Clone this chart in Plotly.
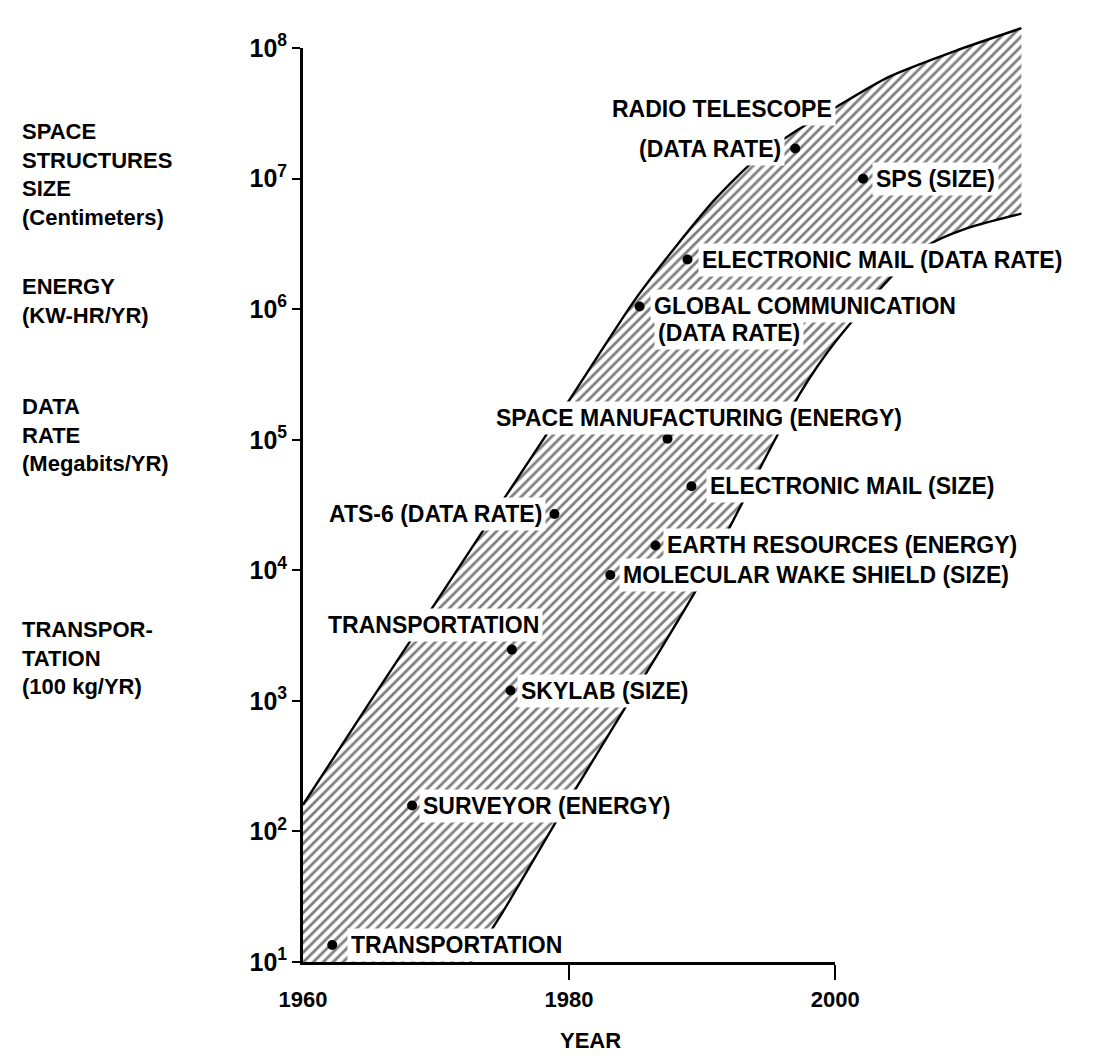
import math
import plotly.graph_objects as go

# ---- data -------------------------------------------------------------
# envelope of projected growth (year, value on the log scale)
upper_years = [1960, 1965, 1970, 1975, 1980, 1985, 1988, 1991, 1994, 1997, 2000, 2004, 2009, 2014]
upper_values = [160, 970, 5.7e3, 3.4e4, 2.0e5, 1.2e6, 3.0e6, 7.0e6, 1.4e7, 2.3e7, 3.5e7, 6.0e7, 9.5e7, 1.42e8]

lower_years = [1972.6, 1975, 1980, 1985, 1990, 1995, 1997.4, 2000, 2004.4, 2007, 2010, 2014]
lower_values = [10, 24, 175, 1200, 8500, 8.1e4, 2.3e5, 5.6e5, 1.85e6, 3.1e6, 4.2e6, 5.4e6]

# milestones
point_labels = [
    "TRANSPORTATION",
    "SURVEYOR (ENERGY)",
    "SKYLAB (SIZE)",
    "TRANSPORTATION",
    "ATS-6 (DATA RATE)",
    "MOLECULAR WAKE SHIELD (SIZE)",
    "EARTH RESOURCES (ENERGY)",
    "ELECTRONIC MAIL (SIZE)",
    "SPACE MANUFACTURING (ENERGY)",
    "GLOBAL COMMUNICATION<br>(DATA RATE)",
    "ELECTRONIC MAIL (DATA RATE)",
    "SPS (SIZE)",
    "RADIO TELESCOPE<br>(DATA RATE)",
]
point_years = [1962.2, 1968.2, 1975.6, 1975.7, 1978.9, 1983.1, 1986.5, 1989.2, 1987.4, 1985.3, 1988.9, 2002.1, 1997.0]
point_values = [13.5, 158, 1200, 2470, 2.7e4, 9.2e3, 1.55e4, 4.4e4, 1.02e5, 1.05e6, 2.4e6, 1.0e7, 1.7e7]

year_ticks = [1960, 1980, 2000]
year_marks = [1980, 2000]
value_ticks = [10 ** k for k in range(1, 9)]
value_tick_text = [f"10<sup>{k}</sup>" for k in range(1, 9)]

side_labels = [
    "SPACE<br>STRUCTURES<br>SIZE<br>(Centimeters)",
    "ENERGY<br>(KW-HR/YR)",
    "DATA<br>RATE<br>(Megabits/YR)",
    "TRANSPOR-<br>TATION<br>(100 kg/YR)",
]

# ---- layout constants ---------------------------------------------------
W, H = 1093, 1056
ML, MR, MT, MB = 303, 45, 4, 94
X_RANGE = [1960, 2016]
Y_RANGE = [1, 8.2]
FONT = "Liberation Sans, Arial, Helvetica, sans-serif"
FS = 23
SMOOTH = 0.7

PLOT_W = W - ML - MR
PLOT_H = H - MT - MB


def px_x(px):
    return (px - ML) / PLOT_W


def px_y(py):
    return (H - MB - py) / PLOT_H


def text_font(size=FS):
    return dict(family=FONT, size=size, color="black", weight="bold")


fig = go.Figure()

# lower edge of the band, closed along the baseline back to the y axis
fig.add_trace(go.Scatter(
    x=[year_ticks[0]] + lower_years, y=[value_ticks[0]] + lower_values,
    mode="lines", line=dict(width=0, color="rgba(0,0,0,0)", shape="spline", smoothing=SMOOTH),
    hoverinfo="skip", showlegend=False,
))
# upper edge, hatched down to the lower edge
fig.add_trace(go.Scatter(
    x=upper_years, y=upper_values, mode="lines", fill="tonexty",
    line=dict(color="black", width=2.4, shape="spline", smoothing=SMOOTH),
    fillcolor="white",
    fillpattern=dict(shape="/", size=7, solidity=0.4, fgcolor="black", bgcolor="white"),
    hoverinfo="skip", showlegend=False,
))
fig.add_trace(go.Scatter(
    x=lower_years, y=lower_values, mode="lines",
    line=dict(color="black", width=2.4, shape="spline", smoothing=SMOOTH),
    hoverinfo="skip", showlegend=False,
))

fig.add_trace(go.Scatter(
    x=point_years, y=point_values, mode="markers",
    marker=dict(color="black", size=10),
    hoverinfo="skip", showlegend=False, cliponaxis=False,
))

# invisible trace so the drawn axes have a subplot
fig.add_trace(go.Scatter(
    x=[1960], y=[10], xaxis="x2", yaxis="y2", mode="markers",
    marker=dict(opacity=0), hoverinfo="skip", showlegend=False,
))

# label placement: (xanchor, xshift, yshift) per milestone line
placement = {
    0: [("left", 15, 0)],
    1: [("left", 7, 0)],
    2: [("left", 6, 0)],
    3: [("right", 31, 25)],
    4: [("right", -8, 0)],
    5: [("left", 9, 0)],
    6: [("left", 7, 0)],
    7: [("left", 15, 0)],
    8: [("center", 31, 21)],
    9: [("left", 10, 0), ("left", 14, -27)],
    10: [("left", 11, 0)],
    11: [("left", 9, 0)],
    12: [("right", 41, 40), ("right", -10, 0)],
}

annotations = []
for i, label in enumerate(point_labels):
    parts = label.split("<br>")
    for text, (anchor, dx, dy) in zip(parts, placement[i]):
        annotations.append(dict(
            x=point_years[i], y=math.log10(point_values[i]), xref="x", yref="y",
            text=text, showarrow=False, xanchor=anchor, yanchor="middle",
            xshift=dx, yshift=dy, bgcolor="white", borderpad=3,
            font=text_font(),
        ))

side_tops = [115, 273, 395, 622]
for text, top in zip(side_labels, side_tops):
    annotations.append(dict(
        x=px_x(20), y=px_y(top - 14), xref="paper", yref="paper",
        text=text, showarrow=False, xanchor="left", yanchor="top", align="left",
        font=text_font(22),
    ))

annotations.append(dict(
    x=px_x(590), y=px_y(1042), xref="paper", yref="paper", text="YEAR",
    showarrow=False, xanchor="center", yanchor="middle", font=text_font(22),
))

span = X_RANGE[1] - X_RANGE[0]
yspan = Y_RANGE[1] - Y_RANGE[0]

fig.update_layout(
    width=W, height=H,
    margin=dict(l=ML, r=MR, t=MT, b=MB),
    paper_bgcolor="white", plot_bgcolor="rgba(0,0,0,0)",
    showlegend=False,
    annotations=annotations,
    xaxis=dict(range=X_RANGE, visible=False, fixedrange=True),
    yaxis=dict(type="log", range=Y_RANGE, visible=False, fixedrange=True),
    xaxis2=dict(
        domain=[0, (year_ticks[-1] - X_RANGE[0]) / span], anchor="y2",
        range=[year_ticks[0], year_ticks[-1]],
        showline=True, linecolor="black", linewidth=2.5,
        tickvals=year_ticks, ticktext=[str(v) for v in year_ticks],
        ticks="outside", ticklen=16, tickcolor="rgba(0,0,0,0)",
        minor=dict(tickvals=year_marks, ticks="outside", ticklen=15,
                   tickwidth=2, tickcolor="black"),
        showgrid=False, zeroline=False, fixedrange=True,
        tickfont=text_font(22),
    ),
    yaxis2=dict(
        domain=[0, (8 - Y_RANGE[0]) / yspan], anchor="x2",
        type="log", range=[1, 8],
        showline=True, linecolor="black", linewidth=2.8,
        tickvals=value_ticks, ticktext=value_tick_text,
        ticks="outside", ticklen=8, tickwidth=1.5, tickcolor="black",
        showgrid=False, zeroline=False, fixedrange=True,
        tickfont=text_font(25),
    ),
)

fig.write_html("out.html")
